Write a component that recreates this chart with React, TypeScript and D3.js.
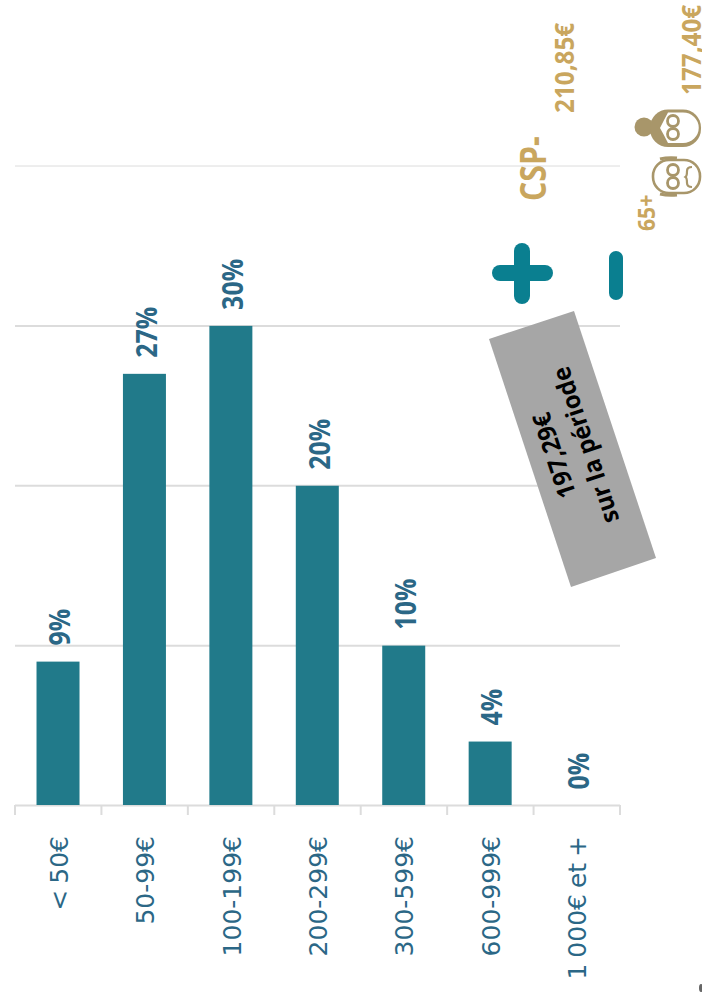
import React from "react";
import * as d3 from "d3";

const categories = ["< 50€", "50-99€", "100-199€", "200-299€", "300-599€", "600-999€", "1 000€ et +"];
const shares = [9, 27, 30, 20, 10, 4, 0];
const gridTicks = [10, 20, 30, 40];
const avgLabel = ["197,29€", "sur la période"];

const W = 702, H = 992;
const x = d3.scaleBand<string>().domain(categories).range([15, 620]).padding(0);
const y = d3.scaleLinear().domain([0, 40]).range([805.5, 166]);
const teal = "#217a8a", blue = "#2b6786", gold = "#c9a65e", tan = "#a8966a", grid = "#dcdcdc";
const barW = 43;
const sans = "'DejaVu Sans', sans-serif";
const cal = "'Open Sans', 'Noto Sans', sans-serif";

const Rot = ({ x, y, children, size, fill, weight, family, anchor, sx = 1, ws }: any) => (
  <text transform={`translate(${x},${y}) rotate(-90) scale(${sx},1)`} fontSize={size} fill={fill}
    fontWeight={weight} fontFamily={family} textAnchor={anchor} wordSpacing={ws}>{children}</text>
);

const FaceWoman = () => (
  <g>
    <circle cx="644" cy="127" r="9.5" fill={tan} />
    <rect x="650" y="109.5" width="51" height="37.5" rx="18" ry="18" fill={tan} />
    <path d="M668 112.5 h15 a15.5 15 0 0 1 0 30.5 h-15 q-4 -8 -8 -15 q4 -8 8 -15.500 z" fill="#fff" />
    <circle cx="673" cy="121" r="5.5" fill="#fff" stroke={tan} strokeWidth="2.8" />
    <circle cx="673" cy="134" r="5.5" fill="#fff" stroke={tan} strokeWidth="2.8" />
  </g>
);
const FaceMan = () => (
  <g>
    <rect x="653" y="160" width="47" height="33" rx="16" ry="16" fill="none" stroke={tan} strokeWidth="2.6" />
    <path d="M660 159 q8 -2 17 -1 M660 194 q8 2 17 1" fill="none" stroke={tan} strokeWidth="3" />
    <circle cx="673" cy="170" r="5.5" fill="none" stroke={tan} strokeWidth="2.8" />
    <circle cx="673" cy="183" r="5.5" fill="none" stroke={tan} strokeWidth="2.8" />
    <path d="M692 167 q-5 0 -5 4 q0 5 -1.500 6 q1.500 1 1.500 6 q0 4 5 4" fill="none" stroke={tan} strokeWidth="2.2" />
  </g>
);

export default function App() {
  return (
    <svg width={W} height={H} style={{ position: "absolute", left: 0, top: 0, background: "#fff" }}>
      {gridTicks.map(t => (
        <line key={t} x1={15} x2={620} y1={y(t)} y2={y(t)} stroke={grid} strokeWidth={t === 40 ? 1 : 2} />
      ))}
      <line x1={15} x2={620} y1={805.5} y2={805.5} stroke={grid} strokeWidth={2} />
      {[...categories.map(c => x(c)!), 620].map((p, i) => (
        <line key={i} x1={p} x2={p} y1={805} y2={815} stroke={grid} strokeWidth={2} />
      ))}
      {categories.map((c, i) => {
        const cx = x(c)! + x.bandwidth() / 2;
        return (
          <g key={c}>
            <rect x={cx - barW / 2 - 0.2} width={barW} y={y(shares[i])} height={805 - y(shares[i])} fill={teal} />
            <Rot x={cx + 12} y={y(shares[i]) - 16} size={29} fill={blue} weight={700} family={cal} anchor="start" sx={0.86}>{shares[i]}%</Rot>
            <Rot x={cx + 9.5} y={836} size={25} fill={blue} family={sans} anchor="end" sx={1} ws={-2}>{c}</Rot>
          </g>
        );
      })}
      <Rot x={546} y={201} size={36} fill={gold} weight={700} family={cal} anchor="start" sx={0.84}>CSP-</Rot>
      <Rot x={574} y={113} size={27} fill={gold} weight={700} family={cal} anchor="start" sx={0.9}>210,85€</Rot>
      <Rot x={701} y={95} size={27} fill={gold} weight={700} family={cal} anchor="start" sx={0.9}>177,40€</Rot>
      <Rot x={655} y={231} size={24} fill={gold} weight={700} family={cal} anchor="start" sx={0.88}>65+</Rot>
      <rect x={492} y={265} width={61} height={16} rx={8} fill="#0a7f90" />
      <rect x={514} y={243} width={16} height={61} rx={8} fill="#0a7f90" />
      <rect x={609} y={251} width={14} height={49} rx={7} fill="#0a7f90" />
      <FaceWoman />
      <FaceMan />
      <polygon points="574,311 489,339 571,587 656,558" fill="#a6a6a6" />
      <g transform="translate(574,449) rotate(-108.3)" textAnchor="middle" fontFamily={cal} fill="#000" fontSize={25}>
        <text y={-12} fontWeight={700} transform="scale(0.95,1)">{avgLabel[0]}</text>
        <text y={21} fontWeight={700} transform="scale(0.95,1)">{avgLabel[1]}</text>
      </g>
      <ellipse cx={701} cy={988} rx={2} ry={4} fill="#666" />
    </svg>
  );
}
